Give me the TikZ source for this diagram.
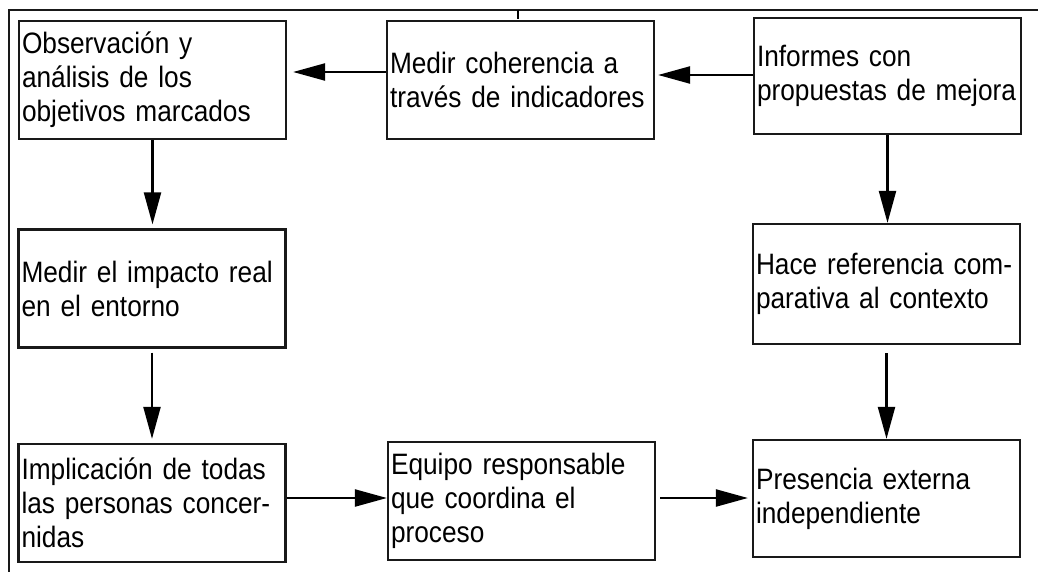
\documentclass[tikz,border=0pt]{standalone}
\usepackage{fontspec}
\setmainfont[FakeStretch=0.89]{Liberation Sans}
\usetikzlibrary{arrows.meta}
\tikzset{
  box/.style={draw=black!90, line width=2.2pt, rectangle, inner xsep=3pt, inner ysep=0pt,
    align=left, text width=261pt, minimum width=267pt, minimum height=118pt,
    font=\fontsize{29.5}{34}\selectfont},
  arr/.style={line width=2.2pt, draw=black, -{Triangle[length=32pt,width=17pt]}},
  frame/.style={line width=2.2pt, draw=black!90}
}
\begin{document}
\begin{tikzpicture}[x=1pt,y=-1pt]
\useasboundingbox (0,0) rectangle (1038,572);
\draw[frame] (1038,10) -- (9,10) -- (9,572);
\coordinate (t1) at (518,10);
\coordinate (t2) at (518,19);
\draw[line width=2.5pt] (t1) -- (t2);

\node[box] (obs) at (152.5,80) {Observación y\\análisis de los\\objetivos marcados};
\node[box] (med) at (520.5,80) {Medir coherencia a\\través de indicadores};
\node[box, minimum height=116pt] (inf) at (887.5,76) {Informes con\\propuestas de mejora};
\node[box] (imp) at (152,288.5) {Medir el impacto real\\en el entorno};
\node[box, minimum height=120pt] (hace) at (886.5,284) {Hace referencia com-\\parativa al contexto};
\node[box] (impl) at (152,503) {Implicación de todas\\las personas concer-\\nidas};
\node[box] (equ) at (521.5,501) {Equipo responsable\\que coordina el\\proceso};
\node[box, minimum height=117pt] (pres) at (886.5,498.5) {Presencia externa\\independiente};

\draw[arr, shorten >=3pt] ([yshift=1pt]inf.west) -- ([yshift=1pt]inf.west -| med.east);
\draw[arr, shorten >=6pt] ([yshift=8pt]med.west) -- ([yshift=8pt]med.west -| obs.east);
\draw[arr, shorten >=4pt] (obs.south) -- (obs.south |- imp.north);
\draw[arr, shorten <=4pt, shorten >=4pt] (imp.south) -- (imp.south |- impl.north);
\draw[arr] ([yshift=5pt]impl.east) -- ([yshift=5pt]impl.east -| equ.west);
\draw[arr, shorten <=4pt, shorten >=4pt] ([yshift=3pt]equ.east) -- ([yshift=3pt]equ.east -| pres.west);
\draw[arr] (inf.south) -- (inf.south |- hace.north);
\draw[arr, shorten <=8pt] (hace.south) -- (hace.south |- pres.north);
\end{tikzpicture}
\end{document}
